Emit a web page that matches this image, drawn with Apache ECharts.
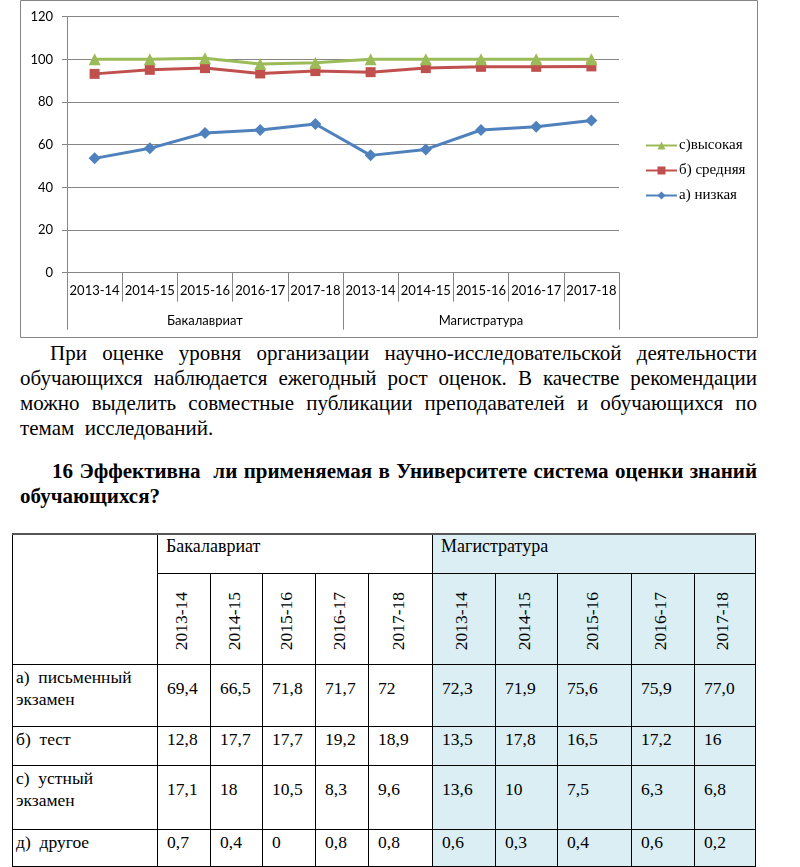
<!DOCTYPE html>
<html>
<head>
<meta charset="utf-8">
<script src="https://cdn.jsdelivr.net/npm/echarts@6/dist/echarts.min.js"></script>
<style>
  html, body { margin:0; padding:0; background:#fff; }
  body { width:800px; height:867px; position:relative; overflow:hidden; }
  #chart { position:absolute; left:0; top:0; width:800px; height:340px; }
  .txt { position:absolute; left:20px; width:737px; font-family:'Liberation Serif','Times New Roman',serif;
         font-size:21px; line-height:25px; color:#000; white-space:pre; }
  .txt .ln { display:block; text-align:justify; text-align-last:justify; }
  .txt .ln.last { text-align-last:left; }
  .txt .ln.first { padding-left:30px; }
  #para { top:341px; }
  #head { top:459px; font-weight:bold; }
  #head .ln.first { padding-left:32px; }
  table { position:absolute; left:12px; top:533px; border-collapse:collapse; table-layout:fixed; width:743px;
          font-family:'Liberation Serif','Times New Roman',serif; font-size:17.5px; color:#000; }
  td { border:1px solid #000; padding:0; vertical-align:top; line-height:22px; overflow:hidden; white-space:pre; }
  td.m { background:#DAEEF3; }
  td.grp { padding-left:8px; padding-top:0px; font-size:18px; }
  td.yr { vertical-align:bottom; text-align:center; padding-bottom:8px; padding-right:6px; }
  td.yr div { display:inline-block; writing-mode:vertical-rl; transform:rotate(180deg); line-height:20px; }
  td.lab { padding-left:3px; padding-top:1px; }
  td.v { padding-left:9px; padding-top:1px; }
  tr.two td.v { padding-top:12px; }
  table tr:first-child td { border-top:2px solid #555; }
  table tr:last-child td { border-bottom:2px solid #000; }
</style>
</head>
<body>
<div id="chart"></div>
<div class="txt" id="para"></div>
<div class="txt" id="head"></div>
<table id="tbl"></table>
<script>
// ---------- chart data ----------
const yearLabels = ['2013-14','2014-15','2015-16','2016-17','2017-18','2013-14','2014-15','2015-16','2016-17','2017-18'];
const groupLabels = ['Бакалавриат','Магистратура'];
const seriesNames = ['а) низкая','б) средняя','с)высокая'];
const lowValues  = [53.6, 58.3, 65.5, 66.9, 69.7, 55.0, 57.8, 66.9, 68.4, 71.3];
const midValues  = [93.2, 95.1, 95.9, 93.4, 94.5, 94.0, 95.9, 96.5, 96.5, 96.7];
const highValues = [100, 100, 100.5, 97.8, 98.4, 100, 100, 100, 100, 100];
const legendOrder = ['с)высокая','б) средняя','а) низкая'];

// ---------- text ----------
const paraLines = [
  'При оценке уровня организации научно-исследовательской деятельности',
  'обучающихся наблюдается ежегодный рост оценок. В качестве рекомендации',
  'можно выделить совместные публикации преподавателей и обучающихся по',
  'темам  исследований.'
];
const headLines = [
  '16 Эффективна  ли применяемая в Университете система оценки знаний',
  'обучающихся?'
];

// ---------- table data ----------
const tableYears = ['2013-14','2014-15','2015-16','2016-17','2017-18'];
const tableRowLabels = ['а)  письменный\nэкзамен','б)  тест','с)  устный\nэкзамен','д)  другое'];
const bakTable = [
  ['69,4','66,5','71,8','71,7','72'],
  ['12,8','17,7','17,7','19,2','18,9'],
  ['17,1','18','10,5','8,3','9,6'],
  ['0,7','0,4','0','0,8','0,8']
];
const magTable = [
  ['72,3','71,9','75,6','75,9','77,0'],
  ['13,5','17,8','16,5','17,2','16'],
  ['13,6','10','7,5','6,3','6,8'],
  ['0,6','0,3','0,4','0,6','0,2']
];

function fillLines(id, lines){
  const el = document.getElementById(id);
  el.innerHTML = lines.map((t,i)=>{
    let cls = 'ln' + (i===0?' first':'') + (i===lines.length-1?' last':'');
    return '<span class="'+cls+'">'+t+'</span>';
  }).join('');
}
fillLines('para', paraLines);
fillLines('head', headLines);

// build table
(function(){
  const colW = [145,53,52,53,53,64,63,62,74,63,61];
  const rowH = [39,91,62,39,64,38];
  const twoLine = [true,false,true,false];
  let h = '<colgroup>' + colW.map(w=>'<col style="width:'+w+'px">').join('') + '</colgroup>';
  h += '<tr style="height:'+rowH[0]+'px"><td rowspan="2"></td><td class="grp" colspan="5">'+groupLabels[0]+'</td><td class="grp m" colspan="5">'+groupLabels[1]+'</td></tr>';
  h += '<tr style="height:'+rowH[1]+'px">';
  tableYears.forEach(y=>{ h += '<td class="yr"><div>'+y+'</div></td>'; });
  tableYears.forEach(y=>{ h += '<td class="yr m"><div>'+y+'</div></td>'; });
  h += '</tr>';
  tableRowLabels.forEach((lab,i)=>{
    h += '<tr class="'+(twoLine[i]?'two':'')+'" style="height:'+rowH[i+2]+'px"><td class="lab">'+lab+'</td>';
    bakTable[i].forEach(v=>{ h += '<td class="v">'+v+'</td>'; });
    magTable[i].forEach(v=>{ h += '<td class="v m">'+v+'</td>'; });
    h += '</tr>';
  });
  document.getElementById('tbl').innerHTML = h;
})();

// build chart
const chart = echarts.init(document.getElementById('chart'), null, {renderer:'canvas'});
const gray = '#868686';
const axFont = {fontFamily:'Lato, "Liberation Sans", sans-serif', fontSize:13, color:'#000'};
const option = {
  animation:false,
  graphic:[{type:'rect', shape:{x:20.5, y:0.5, width:737, height:337}, style:{fill:'none', stroke:gray, lineWidth:1}}],
  grid:{left:67, top:16.7, width:552, height:256},
  legend:{
    orient:'vertical', left:640, top:133, itemWidth:31, itemHeight:10, itemGap:10,
    data:legendOrder,
    textStyle:{fontFamily:'"Liberation Serif", "Times New Roman", serif', fontSize:15, color:'#000', padding:[0,0,0,-3]}
  },
  xAxis:[
    {type:'category', data:yearLabels, position:'bottom', boundaryGap:true,
     axisLine:{show:true, lineStyle:{color:gray}},
     axisTick:{show:true, interval:0, length:29, lineStyle:{color:gray}},
     axisLabel:Object.assign({interval:0, margin:12}, axFont)},
    {type:'category', data:groupLabels, position:'bottom', boundaryGap:true,
     axisLine:{show:false},
     axisTick:{show:true, interval:0, length:57, lineStyle:{color:gray}},
     axisLabel:Object.assign({interval:0, margin:42}, axFont)}
  ],
  yAxis:{type:'value', min:0, max:120, interval:20,
     axisLine:{show:true, lineStyle:{color:gray}},
     axisTick:{show:true, length:5, lineStyle:{color:gray}},
     splitLine:{show:true, lineStyle:{color:gray}},
     axisLabel:Object.assign({margin:14}, axFont)},
  series:[
    {name:seriesNames[0], type:'line', data:lowValues, xAxisIndex:0, symbol:'diamond', symbolSize:12,
     lineStyle:{width:3, color:'#4F81BD'}, itemStyle:{color:'#4F81BD'}},
    {name:seriesNames[1], type:'line', data:midValues, xAxisIndex:0, symbol:'rect', symbolSize:10,
     lineStyle:{width:3, color:'#C0504D'}, itemStyle:{color:'#C0504D'}},
    {name:seriesNames[2], type:'line', data:highValues, xAxisIndex:0, symbol:'triangle', symbolSize:12,
     lineStyle:{width:3, color:'#9BBB59'}, itemStyle:{color:'#9BBB59'}}
  ]
};
chart.setOption(option);
</script>
</body>
</html>
